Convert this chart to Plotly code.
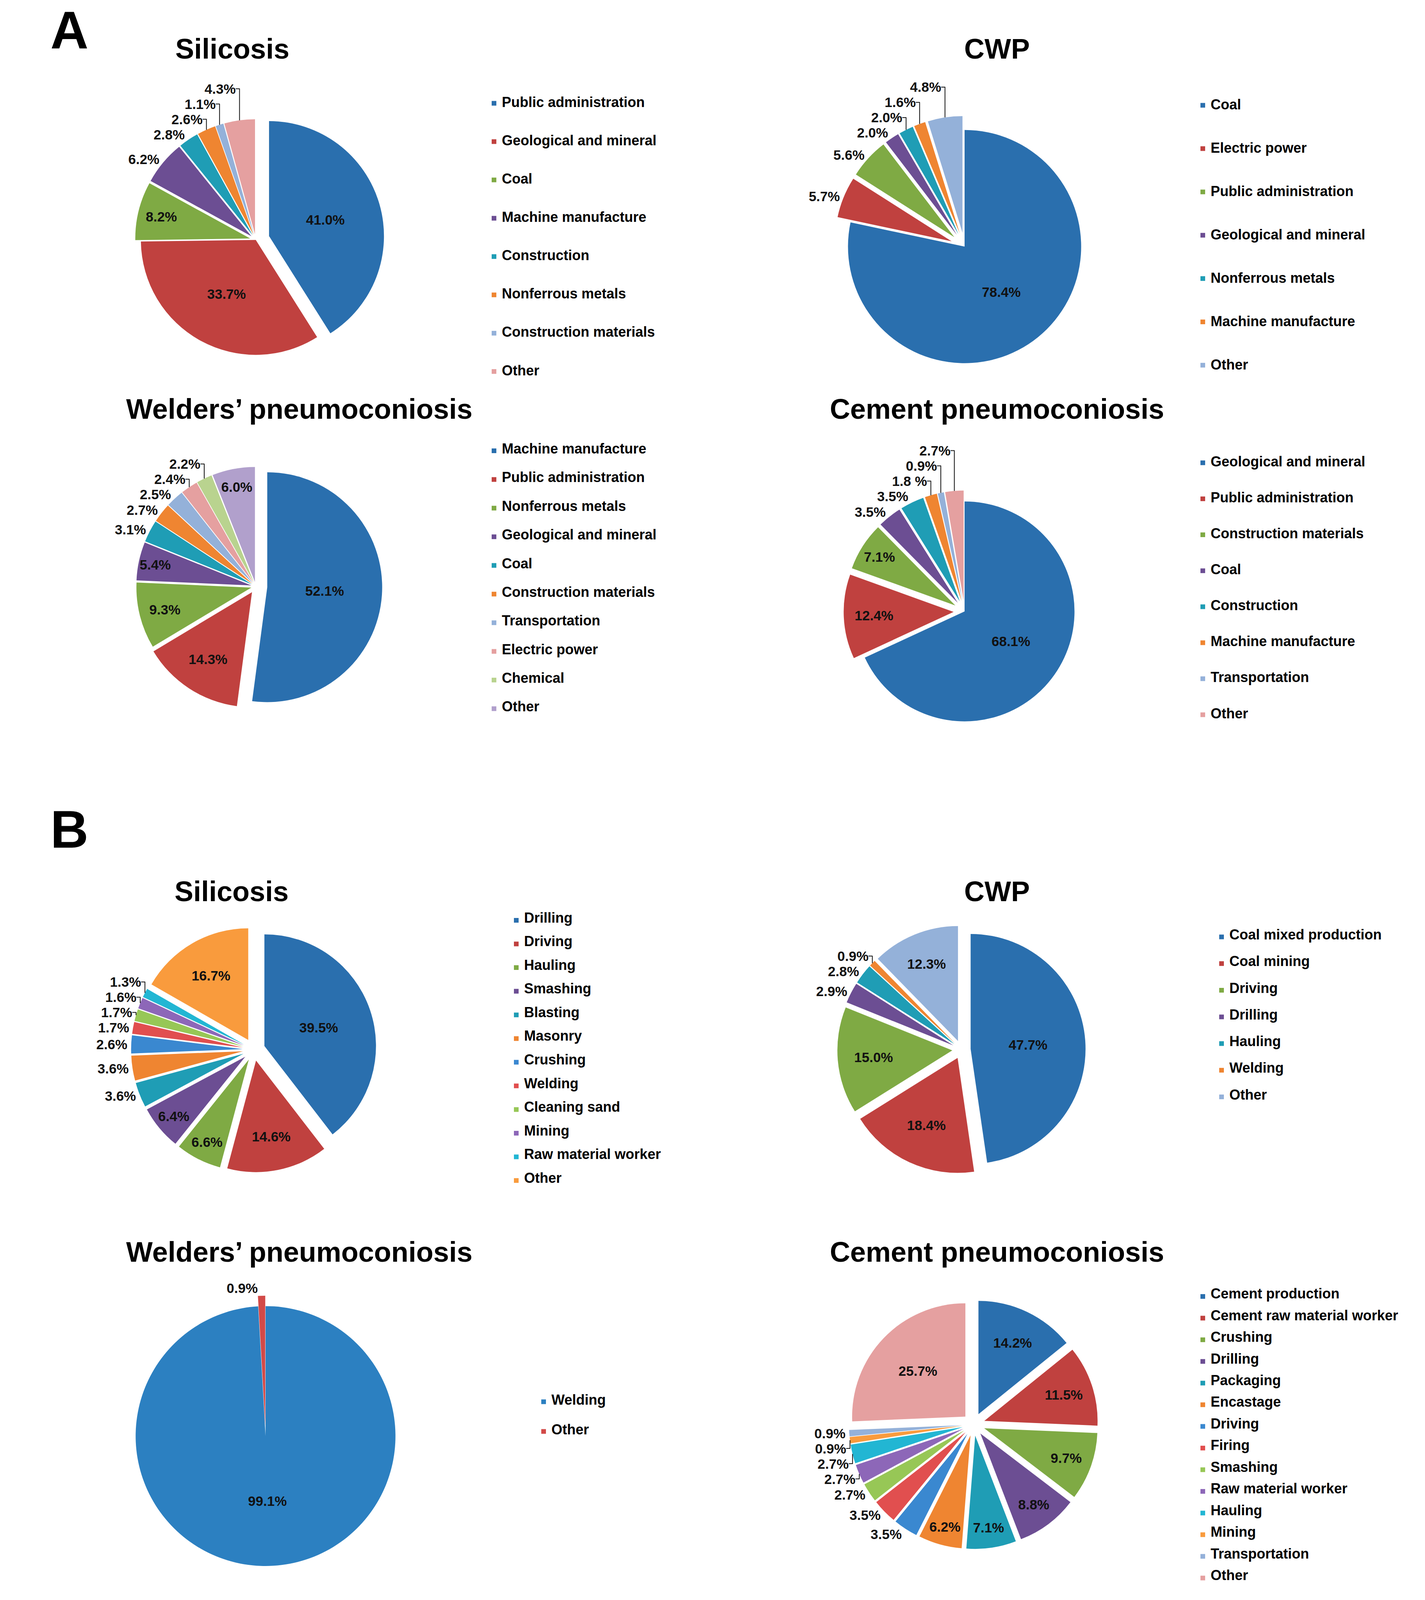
import plotly.graph_objects as go

# reference canvas and the actual browser viewport (window height is capped at 4096)
W, H_REF = 3649, 4802
H_VIEW = 4096
K = H_VIEW / H_REF

# ---------------- data ----------------
sil_a_labels = ["Public administration", "Geological and mineral", "Coal", "Machine manufacture",
                "Construction", "Nonferrous metals", "Construction materials", "Other"]
sil_a_values = [41.0, 33.7, 8.2, 6.2, 2.8, 2.6, 1.1, 4.3]

cwp_a_labels = ["Coal", "Electric power", "Public administration", "Geological and mineral",
                "Nonferrous metals", "Machine manufacture", "Other"]
cwp_a_values = [78.4, 5.7, 5.6, 2.0, 2.0, 1.6, 4.8]

wel_a_labels = ["Machine manufacture", "Public administration", "Nonferrous metals",
                "Geological and mineral", "Coal", "Construction materials", "Transportation",
                "Electric power", "Chemical", "Other"]
wel_a_values = [52.1, 14.3, 9.3, 5.4, 3.1, 2.7, 2.5, 2.4, 2.2, 6.0]

cem_a_labels = ["Geological and mineral", "Public administration", "Construction materials", "Coal",
                "Construction", "Machine manufacture", "Transportation", "Other"]
cem_a_values = [68.1, 12.4, 7.1, 3.5, 3.5, 1.8, 0.9, 2.7]

sil_b_labels = ["Drilling", "Driving", "Hauling", "Smashing", "Blasting", "Masonry", "Crushing",
                "Welding", "Cleaning sand", "Mining", "Raw material worker", "Other"]
sil_b_values = [39.5, 14.6, 6.6, 6.4, 3.6, 3.6, 2.6, 1.7, 1.7, 1.6, 1.3, 16.7]

cwp_b_labels = ["Coal mixed production", "Coal mining", "Driving", "Drilling", "Hauling",
                "Welding", "Other"]
cwp_b_values = [47.7, 18.4, 15.0, 2.9, 2.8, 0.9, 12.3]

wel_b_labels = ["Welding", "Other"]
wel_b_values = [99.1, 0.9]

cem_b_labels = ["Cement production", "Cement raw material worker", "Crushing", "Drilling",
                "Packaging", "Encastage", "Driving", "Firing", "Smashing", "Raw material worker",
                "Hauling", "Mining", "Transportation", "Other"]
cem_b_values = [14.2, 11.5, 9.7, 8.8, 7.1, 6.2, 3.5, 3.5, 2.7, 2.7, 2.7, 0.9, 0.9, 25.7]

titles = ["Silicosis", "CWP", "Welders\u2019 pneumoconiosis", "Cement pneumoconiosis",
          "Silicosis", "CWP", "Welders\u2019 pneumoconiosis", "Cement pneumoconiosis"]
panel_letters = ["A", "B"]


def pct_text(vals):
    return [f"{v:.1f}%" for v in vals]


cem_a_text = pct_text(cem_a_values)
cem_a_text[5] = "1.8 %"

# ---------------- styles ----------------
BASE = ["#2A6FAE", "#C0413F", "#7FAA44", "#6C4E93", "#1F9DB5", "#EF8531"]
LIGHT = ["#94B1D9", "#E5A0A0", "#B9D38F", "#B1A0CC"]
BRIGHT = ["#3A88D0", "#E14F4F", "#97C756", "#8D67B8", "#22B6D3", "#F99B3D"]

FONT = "Liberation Sans, Arial, sans-serif"
LEG_FS = 36
PCT_FS = 35
TITLE_FS = 72
LETTER_FS = 135

# positions are given in reference-canvas pixels
charts = [
    dict(labels=sil_a_labels, values=sil_a_values, text=pct_text(sil_a_values),
         colors=BASE + LIGHT[:2], center=(655, 720), r=345,
         pull=[0.12, 0, 0.05, 0.05, 0.05, 0.05, 0.05, 0.05], inside_min=8,
         title_xy=(595, 146), leg=(1245, 310, 115)),
    dict(labels=cwp_a_labels, values=cwp_a_values, text=pct_text(cwp_a_values),
         colors=BASE + LIGHT[:1], center=(2470, 740), r=350,
         pull=[0] + [0.12] * 6, inside_min=10,
         title_xy=(2553, 146), leg=(3060, 316, 130)),
    dict(labels=wel_a_labels, values=wel_a_values, text=pct_text(wel_a_values),
         colors=BASE + LIGHT, center=(655, 1760), r=345,
         pull=[0.1, 0.06] + [0.04] * 8, inside_min=5,
         title_xy=(766, 1228), leg=(1245, 1353, 86)),
    dict(labels=cem_a_labels, values=cem_a_values, text=cem_a_text,
         colors=BASE + LIGHT[:2], center=(2470, 1835), r=330,
         pull=[0] + [0.1] * 7, inside_min=7,
         title_xy=(2553, 1228), leg=(3060, 1389, 108)),
    dict(labels=sil_b_labels, values=sil_b_values, text=pct_text(sil_b_values),
         colors=BASE + BRIGHT, center=(650, 3150), r=335,
         pull=[0.1] * 12, inside_min=6,
         title_xy=(593, 2675), leg=(1302, 2762, 71)),
    dict(labels=cwp_b_labels, values=cwp_b_values, text=pct_text(cwp_b_values),
         colors=BASE + LIGHT[:1], center=(2462, 3150), r=345,
         pull=[0.08] * 7, inside_min=10,
         title_xy=(2553, 2675), leg=(3108, 2812, 80)),
    dict(labels=wel_b_labels, values=wel_b_values, text=pct_text(wel_b_values),
         colors=["#2C80C1", "#D24A48"], center=(680, 4310), r=390,
         pull=[0, 0.08], inside_min=10,
         title_xy=(766, 3757), leg=(1372, 4207, 89)),
    dict(labels=cem_b_labels, values=cem_b_values, text=pct_text(cem_b_values),
         colors=BASE + BRIGHT + LIGHT[:2], center=(2493, 4275), r=340,
         pull=[0.1] * 14, inside_min=6,
         title_xy=(2553, 3757), leg=(3060, 3891, 65)),
]


def clamp(v):
    return min(1.0, max(0.0, v))


def fy(py):
    return 1 - py / H_REF


fig = go.Figure()
annotations = []
layout_legends = {}

for i, c in enumerate(charts):
    cx, cy = c["center"]
    maxp = max(c["pull"])
    side = 2 * c["r"] * (1 + maxp)
    dom = dict(x=[clamp((cx - side / 2) / W), clamp((cx + side / 2) / W)],
               y=[clamp(fy(cy + side / 2)), clamp(fy(cy - side / 2))])
    lkey = "legend" if i == 0 else f"legend{i + 1}"
    lx, lfirst, lstep = c["leg"]
    step_px = lstep * K
    small = (step_px - 3) / 3.9
    uniq = "\u200b" * (i + 1)
    legend_labels = [f"&nbsp;{uniq}<br><span style='font-size:{LEG_FS}px'><b>{lab}</b></span><br>&nbsp;"
                     for lab in c["labels"]]
    positions = ["inside" if v >= c["inside_min"] else "outside" for v in c["values"]]
    fig.add_trace(go.Pie(
        labels=legend_labels, values=c["values"], text=c["text"], textinfo="text",
        textposition=positions, sort=False, direction="clockwise", rotation=0,
        pull=c["pull"], domain=dom, legend=lkey,
        marker=dict(colors=c["colors"], line=dict(width=0)),
        textfont=dict(family=FONT, size=PCT_FS, color="#111111", weight="bold"),
        insidetextorientation="horizontal",
        hoverinfo="skip", showlegend=True,
    ))
    top_px = lfirst * K - step_px / 2 - 5
    layout_legends[lkey] = dict(
        x=lx / W, y=1 - top_px / H_VIEW, xanchor="left", yanchor="top",
        font=dict(family=FONT, size=small, color="#000000"),
        bgcolor="rgba(0,0,0,0)", borderwidth=0, traceorder="normal",
        itemclick=False, itemdoubleclick=False,
    )
    tx, ty = c["title_xy"]
    annotations.append(dict(
        text=f"<b>{titles[i]}</b>", x=tx / W, y=fy(ty), xref="paper", yref="paper",
        xanchor="center", yanchor="middle", showarrow=False,
        font=dict(family=FONT, size=TITLE_FS, color="#000000"),
    ))

# panel letters: "A" hangs from the top edge, "B" is centred on its row
annotations.append(dict(
    text=f"<b>{panel_letters[0]}</b>", x=178 / W, y=1.0, xref="paper", yref="paper",
    xanchor="center", yanchor="top", showarrow=False,
    font=dict(family=FONT, size=LETTER_FS, color="#000000"),
))
annotations.append(dict(
    text=f"<b>{panel_letters[1]}</b>", x=178 / W, y=fy(2490), xref="paper", yref="paper",
    xanchor="center", yanchor="middle", showarrow=False,
    font=dict(family=FONT, size=LETTER_FS, color="#000000"),
))

fig.update_layout(
    width=W, height=H_VIEW, autosize=False,
    margin=dict(l=0, r=0, t=0, b=0),
    paper_bgcolor="white", plot_bgcolor="white",
    showlegend=True,
    annotations=annotations,
    uniformtext=dict(minsize=PCT_FS, mode="show"),
    **layout_legends,
)

post = """
document.body.style.margin = '0';
document.body.style.overflow = 'hidden';
"""

fig.write_html("out.html", post_script=post, config={"displayModeBar": False})
